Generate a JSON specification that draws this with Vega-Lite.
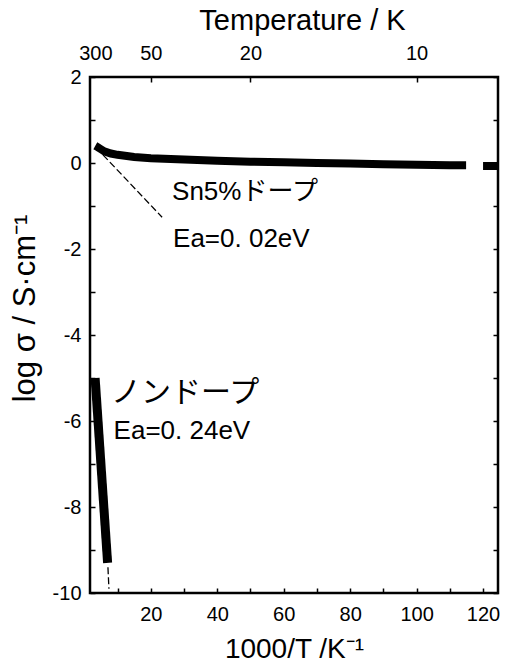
{
  "$schema": "https://vega.github.io/schema/vega-lite/v6.json",
  "autosize": "none",
  "width": 408,
  "height": 516,
  "padding": {"left": 90, "top": 77, "right": 14, "bottom": 72},
  "background": "white",
  "config": {
    "view": {"stroke": "black", "strokeWidth": 2.5},
    "font": "Liberation Sans",
    "axis": {"domain": false, "grid": false, "labelFont": "Liberation Sans", "titleFont": "Liberation Sans", "labelColor": "black", "titleColor": "black", "tickColor": "black", "labelFontSize": 20, "titleFontSize": 28, "titleFontWeight": "normal", "labelFlush": false, "labelOverlap": false, "tickSize": 5, "tickWidth": 1.5, "offset": -5}
  },
  "datasets": {
    "series": [
      {"sample": "Sn5%", "seg": 1, "invT": 3.3, "logs": 0.40},
      {"sample": "Sn5%", "seg": 1, "invT": 4, "logs": 0.37},
      {"sample": "Sn5%", "seg": 1, "invT": 5, "logs": 0.32},
      {"sample": "Sn5%", "seg": 1, "invT": 6, "logs": 0.27},
      {"sample": "Sn5%", "seg": 1, "invT": 8, "logs": 0.22},
      {"sample": "Sn5%", "seg": 1, "invT": 10, "logs": 0.19},
      {"sample": "Sn5%", "seg": 1, "invT": 15, "logs": 0.14},
      {"sample": "Sn5%", "seg": 1, "invT": 20, "logs": 0.11},
      {"sample": "Sn5%", "seg": 1, "invT": 30, "logs": 0.08},
      {"sample": "Sn5%", "seg": 1, "invT": 40, "logs": 0.05},
      {"sample": "Sn5%", "seg": 1, "invT": 50, "logs": 0.03},
      {"sample": "Sn5%", "seg": 1, "invT": 60, "logs": 0.02},
      {"sample": "Sn5%", "seg": 1, "invT": 70, "logs": 0.0},
      {"sample": "Sn5%", "seg": 1, "invT": 80, "logs": -0.01},
      {"sample": "Sn5%", "seg": 1, "invT": 90, "logs": -0.03},
      {"sample": "Sn5%", "seg": 1, "invT": 100, "logs": -0.04},
      {"sample": "Sn5%", "seg": 1, "invT": 110, "logs": -0.05},
      {"sample": "Sn5%", "seg": 1, "invT": 114.9, "logs": -0.05},
      {"sample": "Sn5%", "seg": 2, "invT": 120, "logs": -0.07},
      {"sample": "Sn5%", "seg": 2, "invT": 124.5, "logs": -0.07},
      {"sample": "non", "seg": 3, "invT": 3.24, "logs": -5.0},
      {"sample": "non", "seg": 3, "invT": 7.0, "logs": -9.3}
    ],
    "fits": [
      {"fit": "Sn5%", "invT": 5.6, "logs": 0.19},
      {"fit": "Sn5%", "invT": 23.4, "logs": -1.26},
      {"fit": "non", "invT": 7.1, "logs": -9.4},
      {"fit": "non", "invT": 7.4, "logs": -9.9}
    ],
    "labels": [
      {"text": "Sn5%ドープ", "invT": 26.4, "logs": -0.67, "big": false},
      {"text": "Ea=0. 02eV", "invT": 26.7, "logs": -1.77, "big": false},
      {"text": "ノンドープ", "invT": 8.0, "logs": -5.36, "big": true},
      {"text": "Ea=0. 24eV", "invT": 8.8, "logs": -6.23, "big": false}
    ]
  },
  "resolve": {"axis": {"x": "independent", "y": "independent"}},
  "layer": [
    {
      "data": {"name": "series"},
      "transform": [{"filter": "datum.sample === 'Sn5%'"}],
      "mark": {"type": "line", "color": "black", "strokeWidth": 8, "strokeCap": "butt", "clip": true},
      "encoding": {
        "x": {"field": "invT", "type": "quantitative", "scale": {"domain": [1.7, 124.5], "nice": false, "zero": false},
          "axis": {"orient": "bottom", "title": "1000/T /K⁻¹", "values": [10, 20, 30, 40, 50, 60, 70, 80, 90, 100, 110, 120], "labelExpr": "datum.value % 20 === 0 ? datum.label : ''", "labelPadding": 11, "titlePadding": 11}},
        "y": {"field": "logs", "type": "quantitative", "scale": {"domain": [-10, 2], "nice": false, "zero": false},
          "axis": {"orient": "left", "title": "log σ / S·cm⁻¹", "titleFontSize": 31, "titleY": 231, "values": [-10, -9, -8, -7, -6, -5, -4, -3, -2, -1, 0, 1, 2], "labelExpr": "datum.value % 2 === 0 ? '' + datum.value : ''", "labelPadding": 9, "titlePadding": 11}},
        "detail": {"field": "seg"}
      }
    },
    {
      "data": {"name": "series"},
      "transform": [{"filter": "datum.sample === 'non'"}],
      "mark": {"type": "line", "color": "black", "strokeWidth": 9, "strokeCap": "butt", "clip": true},
      "encoding": {
        "x": {"field": "invT", "type": "quantitative",
          "axis": {"orient": "top", "title": "Temperature / K", "titleFontSize": 29, "titleX": 212, "values": [3.3333, 20, 50, 100], "labelExpr": "format(1000 / datum.value, '.0f')", "labelPadding": 14, "titlePadding": 8, "tickOpacity": {"condition": {"test": "datum.value < 5", "value": 0}, "value": 1}}},
        "y": {"field": "logs", "type": "quantitative",
          "axis": {"orient": "right", "title": null, "labels": false, "values": [-10, -9, -8, -7, -6, -5, -4, -3, -2, -1, 0, 1, 2]}}
      }
    },
    {
      "data": {"name": "fits"},
      "mark": {"type": "line", "color": "black", "strokeWidth": 1.3, "strokeDash": [7, 3], "clip": true},
      "encoding": {
        "x": {"field": "invT", "type": "quantitative", "axis": null},
        "y": {"field": "logs", "type": "quantitative", "axis": null},
        "detail": {"field": "fit"}
      }
    },
    {
      "data": {"name": "labels"},
      "mark": {"type": "text", "align": "left", "baseline": "middle", "color": "black", "font": "Liberation Sans, Noto Sans CJK JP"},
      "encoding": {
        "x": {"field": "invT", "type": "quantitative", "axis": null},
        "y": {"field": "logs", "type": "quantitative", "axis": null},
        "text": {"field": "text"},
        "size": {"condition": {"test": "datum.big", "value": 30}, "value": 26}
      }
    }
  ]
}
